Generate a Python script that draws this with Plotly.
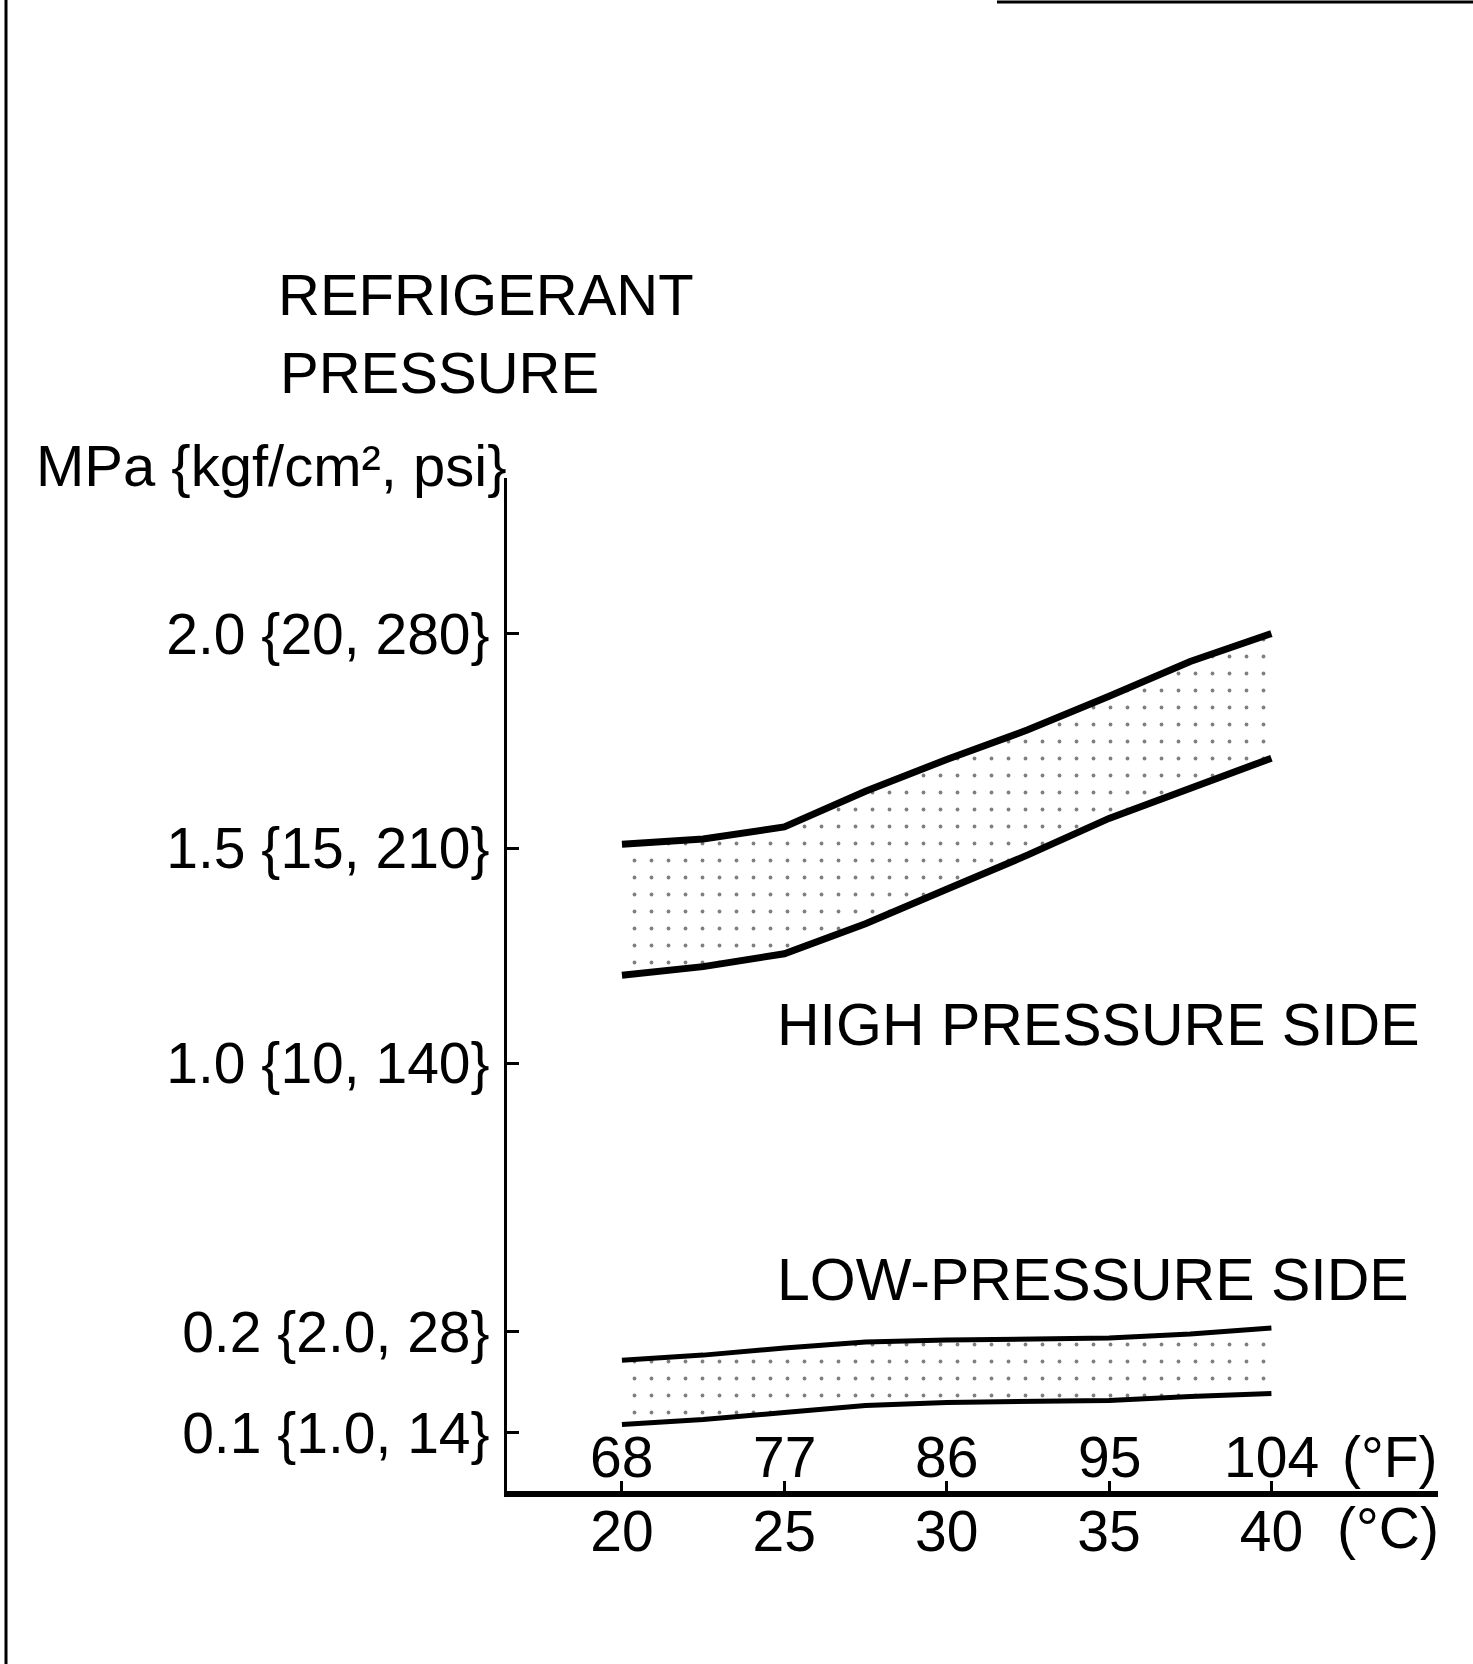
import plotly.graph_objects as go

# ---- data ----
temp_c = [20, 22.5, 25, 27.5, 30, 32.5, 35, 37.5, 40]
high_upper = [1.51, 1.522, 1.55, 1.633, 1.707, 1.776, 1.854, 1.935, 2.0]
high_lower = [1.205, 1.225, 1.255, 1.325, 1.405, 1.485, 1.57, 1.64, 1.71]
low_upper = [0.172, 0.177, 0.184, 0.19, 0.192, 0.193, 0.194, 0.198, 0.204]
low_lower = [0.108, 0.113, 0.12, 0.127, 0.13, 0.131, 0.132, 0.136, 0.139]

c_ticks = [20, 25, 30, 35, 40]
c_labels = ["20", "25", "30", "35", "40"]
f_labels = ["68", "77", "86", "95", "104"]

hi_ticks = [1.0, 1.5, 2.0]
hi_labels = ["1.0 {10, 140}", "1.5 {15, 210}", "2.0 {20, 280}"]
lo_ticks = [0.1, 0.2]
lo_labels = ["0.1 {1.0, 14}", "0.2 {2.0, 28}"]

FONT = "Liberation Sans, Arial, sans-serif"
W, H = 1473, 1664

fig = go.Figure()

pattern = dict(shape=".", fgcolor="black", bgcolor="white", size=17, solidity=0.04)

# high pressure band (upper subplot)
fig.add_trace(go.Scatter(x=temp_c, y=high_lower, mode="lines", xaxis="x2", yaxis="y",
                         line=dict(color="black", width=7), showlegend=False))
fig.add_trace(go.Scatter(x=temp_c, y=high_upper, mode="lines", xaxis="x2", yaxis="y",
                         line=dict(color="black", width=7), fill="tonexty",
                         fillcolor="rgba(0,0,0,0)", fillpattern=pattern, showlegend=False))
# low pressure band (lower subplot)
fig.add_trace(go.Scatter(x=temp_c, y=low_lower, mode="lines", xaxis="x", yaxis="y2",
                         line=dict(color="black", width=5), showlegend=False))
fig.add_trace(go.Scatter(x=temp_c, y=low_upper, mode="lines", xaxis="x", yaxis="y2",
                         line=dict(color="black", width=5), fill="tonexty",
                         fillcolor="rgba(0,0,0,0)", fillpattern=pattern, showlegend=False))

xdom = [507 / W, 1438 / W]
y_top = 1 - 478 / H
y_mid = 1 - 1200 / H
y_bot = 1 - 1491 / H
xrange = [16.46, 45.13]

tickfont = dict(family=FONT, size=57, color="black")

fig.update_layout(
    width=W, height=H,
    margin=dict(l=0, r=0, t=0, b=0),
    paper_bgcolor="white", plot_bgcolor="white",
    font=dict(family=FONT, color="black"),
    xaxis=dict(domain=xdom, range=xrange, anchor="y2", tickvals=c_ticks, ticktext=c_labels,
               showline=True, linewidth=6, linecolor="black", ticks="inside", ticklen=10,
               tickwidth=3, tickcolor="black", showgrid=False, zeroline=False,
               tickfont=tickfont, ticklabelstandoff=-14),
    xaxis2=dict(domain=xdom, range=xrange, anchor="y", matches="x", visible=False),
    yaxis=dict(domain=[y_mid, y_top], range=[0.682, 2.362], anchor="x2",
               tickvals=hi_ticks, ticktext=hi_labels, showline=True, linewidth=3,
               linecolor="black", ticks="inside", ticklen=12, tickwidth=3, tickcolor="black",
               showgrid=False, zeroline=False, tickfont=tickfont, ticklabelstandoff=3),
    yaxis2=dict(domain=[y_bot, y_mid], range=[0.0421, 0.331], anchor="x",
                tickvals=lo_ticks, ticktext=lo_labels, showline=True, linewidth=3,
                linecolor="black", ticks="inside", ticklen=12, tickwidth=3, tickcolor="black",
                showgrid=False, zeroline=False, tickfont=tickfont, ticklabelstandoff=3),
)

# Fahrenheit labels just above the temperature axis line
for xc, lab in zip(c_ticks, f_labels):
    fig.add_annotation(xref="x", yref="paper", x=xc, y=1 - 1457 / H, text=lab,
                       showarrow=False, font=tickfont, xanchor="center", yanchor="middle")

ann_font = dict(family=FONT, size=58, color="black")
annotations = [
    dict(text="REFRIGERANT", x=276 / W, y=1 - 294 / H),
    dict(text="PRESSURE", x=278 / W, y=1 - 372 / H),
    dict(text="MPa {kgf/cm², psi}", x=34 / W, y=1 - 466 / H),
    dict(text="HIGH PRESSURE SIDE", x=775 / W, y=1 - 1025 / H, font=dict(family=FONT, size=59, color="black")),
    dict(text="LOW-PRESSURE SIDE", x=775 / W, y=1 - 1280 / H, font=dict(family=FONT, size=59, color="black")),
]
for a in annotations:
    a.setdefault("font", ann_font)
    fig.add_annotation(xref="paper", yref="paper", xanchor="left", yanchor="middle",
                       showarrow=False, **a)

# unit labels at the axis end
fig.add_annotation(xref="paper", yref="paper", x=1390 / W, y=1 - 1457 / H, text="(°F)",
                   showarrow=False, font=tickfont, xanchor="center", yanchor="middle")
fig.add_annotation(xref="paper", yref="paper", x=1388 / W, y=1 - 1528 / H, text="(°C)",
                   showarrow=False, font=tickfont, xanchor="center", yanchor="middle")

# page frame fragments
fig.add_shape(type="line", xref="paper", yref="paper", x0=6 / W, x1=6 / W, y0=0, y1=1,
              line=dict(color="black", width=3))
fig.add_shape(type="line", xref="paper", yref="paper", x0=997 / W, x1=1, y0=1 - 2 / H, y1=1 - 2 / H,
              line=dict(color="black", width=3))

fig.write_html("out.html")
